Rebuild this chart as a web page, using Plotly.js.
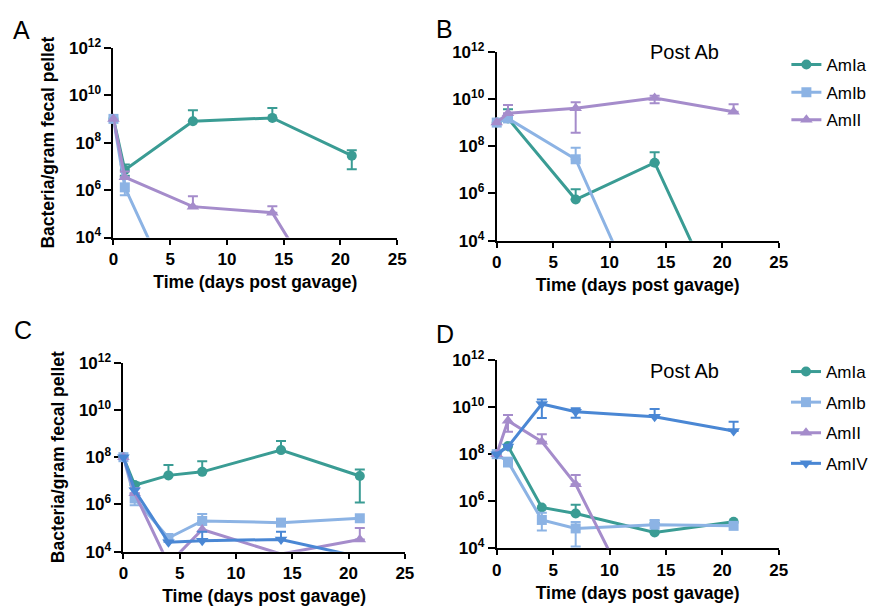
<!DOCTYPE html>
<html>
<head>
<meta charset="utf-8">
<script src="https://cdn.plot.ly/plotly-3.0.1.min.js"></script>
<style>html,body{margin:0;padding:0;background:#fff;}#chart{width:874px;height:609px;}</style>
</head>
<body>
<div id="chart"></div>
<script>
// ---------------- DATA ----------------
const seriesNames = ['AmIa', 'AmIb', 'AmII', 'AmIV'];
const xTicks = [0, 5, 10, 15, 20, 25];
const yTicks = [1e4, 1e6, 1e8, 1e10, 1e12];
const yTickText = ['10<sup>4</sup>', '10<sup>6</sup>', '10<sup>8</sup>', '10<sup>10</sup>', '10<sup>12</sup>'];
const xTitle = 'Time (days post gavage)';
const yTitle = 'Bacteria/gram fecal pellet';
const panelLetters = ['A', 'B', 'C', 'D'];
const postAbLabel = 'Post Ab';

// Panel A
const A_days = [0, 1, 7, 14, 21];
const A_AmIa = [1e9, 7e6, 8e8, 1.1e9, 2.8e7];
const A_AmIa_hi = [null, 1.2e7, 2.3e9, 2.9e9, 4.8e7];
const A_AmIa_lo = [null, 4e6, null, null, 7.6e6];
const A_AmIb_days = [0, 1, 4];
const A_AmIb = [1e9, 1.3e6, 1e3];
const A_AmIb_hi = [null, 3e6, null];
const A_AmIb_lo = [null, 6e5, null];
const A_AmII = [1e9, 3.5e6, 2e5, 1.1e5, 0.4];
const A_AmII_hi = [null, 6e6, 5.5e5, 2.1e5, null];
const A_AmII_lo = [null, null, null, null, null];

// Panel B (Post Ab)
const B_days = [0, 1, 7, 14, 21];
const B_AmIa = [1e9, 1.5e9, 5.5e5, 2e7, 1.2];
const B_AmIa_hi = [null, 3.7e9, 1.5e6, 5.5e7, null];
const B_AmIa_lo = [null, null, null, null, null];
const B_AmIb_days = [0, 1, 7, 14];
const B_AmIb = [1e9, 1.5e9, 2.8e7, 1];
const B_AmIb_hi = [null, null, 8.5e7, null];
const B_AmIb_lo = [null, null, null, null];
const B_AmII = [1e9, 2.5e9, 4e9, 1.1e10, 2.9e9];
const B_AmII_hi = [null, 5.5e9, 7.2e9, 1.35e10, 6e9];
const B_AmII_lo = [null, null, 3.7e8, 6.6e9, null];

// Panel C
const C_days = [0, 1, 4, 7, 14, 21];
const C_AmIa = [1e8, 6.6e6, 1.7e7, 2.4e7, 2e8, 1.6e7];
const C_AmIa_hi = [null, 8.5e6, 4.7e7, 6.8e7, 4.8e8, 3e7];
const C_AmIa_lo = [null, null, null, null, null, 1.2e6];
const C_AmIb = [1e8, 1.8e6, 3.8e4, 2e5, 1.7e5, 2.6e5];
const C_AmIb_hi = [null, 3e6, null, 3.9e5, null, null];
const C_AmIb_lo = [null, 9.3e5, null, null, null, null];
const C_AmII = [1e8, 3e6, 3e3, 8.7e4, 8e3, 3.3e4];
const C_AmII_hi = [null, 5e6, null, null, null, 1e5];
const C_AmII_lo = [null, null, null, null, null, null];
const C_AmIV = [1e8, 4e6, 2.5e4, 2.9e4, 3.3e4, 6e3];
const C_AmIV_hi = [null, null, null, 7e4, 7e4, null];
const C_AmIV_lo = [null, null, null, null, null, null];

// Panel D (Post Ab)
const D_days = [0, 1, 4, 7, 14, 21];
const D_AmIa = [1e8, 2.2e8, 5.4e5, 3e5, 4.7e4, 1.35e5];
const D_AmIa_hi = [null, null, null, 7e5, 1.2e5, null];
const D_AmIa_lo = [null, null, null, null, null, null];
const D_AmIb = [1e8, 4.8e7, 1.6e5, 7e4, 1e5, 9e4];
const D_AmIb_hi = [null, null, 3.2e5, 1.3e5, 1.6e5, null];
const D_AmIb_lo = [null, 3e7, 5.7e4, 1.2e4, null, null];
const D_AmII_days = [0, 1, 4, 7, 14];
const D_AmII = [1e8, 2.6e9, 3.4e8, 5.2e6, 1.1];
const D_AmII_hi = [null, 4.6e9, 7e8, 1.3e7, null];
const D_AmII_lo = [null, 9e8, null, null, null];
const D_AmIV = [1e8, 2.1e8, 1.35e10, 6.3e9, 3.9e9, 9.6e8];
const D_AmIV_hi = [null, null, 2.1e10, 8.9e9, 8.3e9, 2.4e9];
const D_AmIV_lo = [null, null, 3.4e9, 3.5e9, null, null];

// ---------------- STYLE ----------------
const FONT = 'Liberation Sans, Arial, Helvetica, sans-serif';
const styles = {
  AmIa: {color: '#3a9c94', symbol: 'circle', size: 10},
  AmIb: {color: '#8cb3e4', symbol: 'square', size: 10},
  AmII: {color: '#a58ccb', symbol: 'triangle-up', size: 11},
  AmIV: {color: '#4a87d4', symbol: 'triangle-down', size: 11}
};

function mk(x, y, hi, lo, name, ax, leg) {
  const s = styles[name];
  const plus = y.map((v, i) => (hi[i] != null ? hi[i] - v : (lo[i] != null ? 0 : NaN)));
  const minus = y.map((v, i) => (lo[i] != null ? v - lo[i] : (hi[i] != null ? 0 : NaN)));
  return {
    x: x, y: y, type: 'scatter', mode: 'lines+markers', name: name,
    xaxis: 'x' + ax, yaxis: 'y' + ax, cliponaxis: false,
    line: {color: s.color, width: 3},
    marker: {symbol: s.symbol, size: s.size, color: s.color},
    error_y: {type: 'data', symmetric: false, array: plus, arrayminus: minus,
              color: s.color, thickness: 2, width: 5},
    showlegend: !!leg, legend: leg || 'legend', legendgroup: leg ? (leg + name) : undefined
  };
}

const traces = [
  mk(A_days, A_AmIa, A_AmIa_hi, A_AmIa_lo, 'AmIa', '', null),
  mk(A_AmIb_days, A_AmIb, A_AmIb_hi, A_AmIb_lo, 'AmIb', '', null),
  mk(A_days, A_AmII, A_AmII_hi, A_AmII_lo, 'AmII', '', null),

  mk(B_days, B_AmIa, B_AmIa_hi, B_AmIa_lo, 'AmIa', '2', 'legend'),
  mk(B_AmIb_days, B_AmIb, B_AmIb_hi, B_AmIb_lo, 'AmIb', '2', 'legend'),
  mk(B_days, B_AmII, B_AmII_hi, B_AmII_lo, 'AmII', '2', 'legend'),

  mk(C_days, C_AmIa, C_AmIa_hi, C_AmIa_lo, 'AmIa', '3', null),
  mk(C_days, C_AmIb, C_AmIb_hi, C_AmIb_lo, 'AmIb', '3', null),
  mk(C_days, C_AmII, C_AmII_hi, C_AmII_lo, 'AmII', '3', null),
  mk(C_days, C_AmIV, C_AmIV_hi, C_AmIV_lo, 'AmIV', '3', null),

  mk(D_days, D_AmIa, D_AmIa_hi, D_AmIa_lo, 'AmIa', '4', 'legend2'),
  mk(D_days, D_AmIb, D_AmIb_hi, D_AmIb_lo, 'AmIb', '4', 'legend2'),
  mk(D_AmII_days, D_AmII, D_AmII_hi, D_AmII_lo, 'AmII', '4', 'legend2'),
  mk(D_days, D_AmIV, D_AmIV_hi, D_AmIV_lo, 'AmIV', '4', 'legend2')
];

const W = 874, H = 609;
const px = v => v / W;
const py = v => 1 - v / H;

function xax(x0, x1, anchor) {
  return {
    domain: [px(x0), px(x1)], anchor: anchor, range: [0, 25],
    tickvals: xTicks, ticks: 'outside', ticklen: 5, tickwidth: 2, tickcolor: '#000',
    showline: true, linewidth: 2, linecolor: '#000', showgrid: false, zeroline: false,
    tickfont: {family: FONT, size: 17, color: '#000', weight: 'bold'},
    title: {text: xTitle, font: {family: FONT, size: 17.5, color: '#000', weight: 'bold'}, standoff: 8},
    layer: 'below traces', fixedrange: true
  };
}
function yax(ytop, ybot, anchor, showTitle) {
  return {
    domain: [py(ybot), py(ytop)], anchor: anchor, type: 'log', range: [4, 12],
    tickvals: yTicks, ticktext: yTickText, ticks: 'outside', ticklen: 7, tickwidth: 2, tickcolor: '#000',
    showline: true, linewidth: 2, linecolor: '#000', showgrid: false, zeroline: false,
    tickfont: {family: FONT, size: 17, color: '#000', weight: 'bold'},
    title: showTitle ? {text: yTitle, font: {family: FONT, size: 17.5, color: '#000', weight: 'bold'}, standoff: 10} : {text: ''},
    layer: 'below traces', fixedrange: true
  };
}

const letterFont = {family: FONT, size: 25, color: '#000'};
function note(text, x, y, font) {
  return {text: text, x: px(x), y: py(y), xref: 'paper', yref: 'paper', showarrow: false,
          xanchor: 'center', yanchor: 'middle', font: font};
}
const layout = {
  width: W, height: H, margin: {l: 0, r: 0, t: 0, b: 0},
  paper_bgcolor: '#fff', plot_bgcolor: 'rgba(0,0,0,0)',
  font: {family: FONT, color: '#000'},
  xaxis: xax(114, 399, 'y'), yaxis: yax(47.7, 237.5, 'x', true),
  xaxis2: xax(499, 782.3, 'y2'), yaxis2: yax(51.7, 240.7, 'x2', false),
  xaxis3: xax(124, 406.7, 'y3'), yaxis3: yax(362.7, 551.7, 'x3', true),
  xaxis4: xax(499, 782.3, 'y4'), yaxis4: yax(360, 548.3, 'x4', false),
  legend: {x: px(790), y: py(47), xanchor: 'left', yanchor: 'top', bgcolor: 'rgba(0,0,0,0)',
           font: {family: FONT, size: 17, color: '#000'}, traceorder: 'grouped', tracegroupgap: 2.5},
  legend2: {x: px(790), y: py(354), xanchor: 'left', yanchor: 'top', bgcolor: 'rgba(0,0,0,0)',
            font: {family: FONT, size: 17, color: '#000'}, traceorder: 'grouped', tracegroupgap: 5.5},
  annotations: [
    note(panelLetters[0], 22, 30, letterFont),
    note(panelLetters[1], 447, 29, letterFont),
    note(panelLetters[2], 23, 330, letterFont),
    note(panelLetters[3], 447, 334, letterFont),
    note(postAbLabel, 688, 52, {family: FONT, size: 20, color: '#000'}),
    note(postAbLabel, 688, 371, {family: FONT, size: 20, color: '#000'})
  ]
};

Plotly.newPlot('chart', traces, layout, {displayModeBar: false, staticPlot: true});
</script>
</body>
</html>
